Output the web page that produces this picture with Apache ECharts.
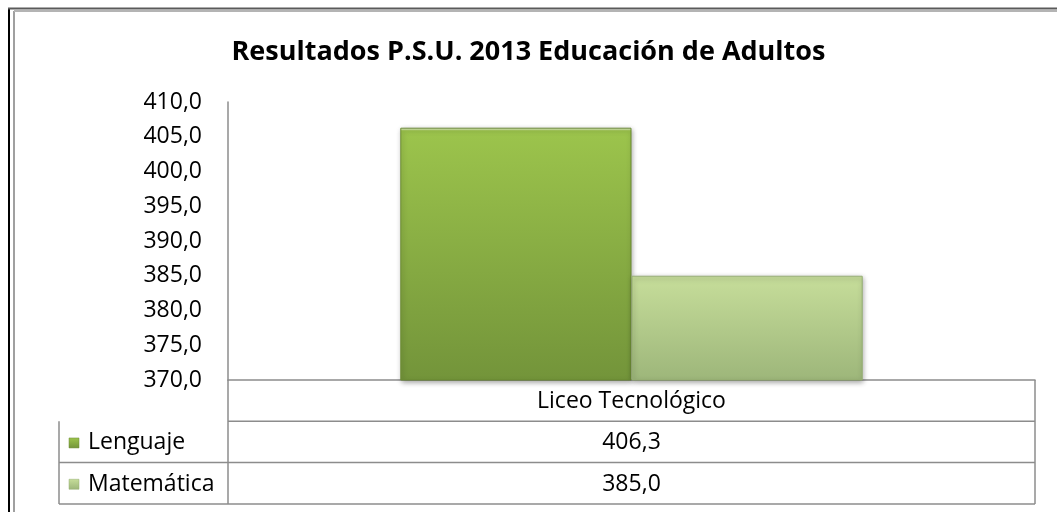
<!DOCTYPE html>
<html>
<head>
<meta charset="utf-8">
<script src="https://cdn.jsdelivr.net/npm/echarts@6/dist/echarts.min.js"></script>
<style>
html,body{margin:0;padding:0;background:#fff;}
#chart{width:1057px;height:512px;}
</style>
</head>
<body>
<div id="chart"></div>
<script>
var titleText = 'Resultados P.S.U. 2013 Educación de Adultos';
var categories = ['Liceo Tecnológico'];
var seriesNames = ['Lenguaje', 'Matemática'];
var lenguaje = [406.3];
var matematica = [385.0];
var yTicks = [370, 375, 380, 385, 390, 395, 400, 405, 410];

var FONT = '"Open Sans", sans-serif';
var gridLeft = 228, gridTop = 102, gridRight = 1035, gridBottom = 380;
var rowH = 41.3, labelLeft = 59;

function fmt(v) { return v.toFixed(1).replace('.', ','); }

function grad(top, bottom) {
  return new echarts.graphic.LinearGradient(0, 0, 0, 1, [
    { offset: 0, color: '#ffffff' },
    { offset: 0.012, color: top },
    { offset: 1, color: bottom }
  ]);
}
var colors = [['#9cc44c', '#73943a'], ['#c6dd9a', '#9db67a']];
var values = [lenguaje, matematica];

var chart = echarts.init(document.getElementById('chart'));

// data table drawn below the plot
var g = [];
var lineStyle = { stroke: '#8c8c8c', lineWidth: 1.5 };
function hline(x1, x2, y) { g.push({ type: 'line', shape: { x1: x1, y1: y, x2: x2, y2: y }, style: lineStyle }); }
function vline(x, y1, y2) { g.push({ type: 'line', shape: { x1: x, y1: y1, x2: x, y2: y2 }, style: lineStyle }); }
var midX = (gridLeft + gridRight) / 2;
hline(gridLeft, gridRight, gridBottom + rowH);
for (var i = 0; i < seriesNames.length; i++) hline(labelLeft, gridRight, gridBottom + rowH * (i + 2));
vline(gridLeft, gridBottom, gridBottom + rowH * 3);
vline(gridRight, gridBottom, gridBottom + rowH * 3);
vline(labelLeft, gridBottom + rowH, gridBottom + rowH * 3);
g.push({ type: 'text', x: midX, y: gridBottom + rowH / 2 + 1,
  style: { text: categories[0], font: '23px ' + FONT, fill: '#000', textAlign: 'center', textVerticalAlign: 'middle' } });
seriesNames.forEach(function (name, i) {
  var cy = gridBottom + rowH * (i + 1) + rowH / 2 + 1;
  g.push({ type: 'rect', shape: { x: labelLeft + 10, y: cy - 5, width: 10, height: 10 },
    style: { fill: grad(colors[i][0], colors[i][1]), stroke: i === 0 ? '#6a8a33' : '#94ad70', lineWidth: 0.5 } });
  g.push({ type: 'text', x: labelLeft + 29, y: cy,
    style: { text: name, font: '23px ' + FONT, fill: '#000', textVerticalAlign: 'middle' } });
  g.push({ type: 'text', x: midX, y: cy,
    style: { text: fmt(values[i][0]), font: '23px ' + FONT, fill: '#000', textAlign: 'center', textVerticalAlign: 'middle' } });
});
// outer frame
g.push({ type: 'line', shape: { x1: 9, y1: 8, x2: 9, y2: 512 }, style: { stroke: '#000', lineWidth: 2 } });
g.push({ type: 'line', shape: { x1: 14, y1: 11, x2: 14, y2: 512 }, style: { stroke: '#a0a0a0', lineWidth: 2 } });
g.push({ type: 'line', shape: { x1: 8, y1: 8.5, x2: 1057, y2: 8.5 }, style: { stroke: '#5a5a5a', lineWidth: 2 } });
g.push({ type: 'line', shape: { x1: 14, y1: 11, x2: 1057, y2: 11 }, style: { stroke: '#b4b4b4', lineWidth: 2 } });

var option = {
  animation: false,
  backgroundColor: '#fff',
  title: {
    text: titleText, left: 'center', top: 34,
    textStyle: { fontFamily: FONT, fontSize: 27, fontWeight: 'bold', color: '#000' }
  },
  grid: { left: gridLeft, top: gridTop, right: 1057 - gridRight, bottom: 512 - gridBottom, containLabel: false },
  xAxis: {
    type: 'category', data: categories,
    axisLine: { lineStyle: { color: '#8c8c8c', width: 1.5 } },
    axisTick: { show: false }, axisLabel: { show: false }
  },
  yAxis: {
    type: 'value', min: yTicks[0], max: yTicks[yTicks.length - 1], interval: 5,
    axisLine: { show: true, lineStyle: { color: '#8c8c8c', width: 1.5 } },
    axisTick: { show: false }, splitLine: { show: false },
    axisLabel: { formatter: fmt, fontFamily: FONT, fontSize: 23, color: '#000', margin: 26 }
  },
  series: seriesNames.map(function (name, i) {
    return {
      name: name, type: 'bar', data: values[i],
      barGap: 0, barCategoryGap: '42.7%',
      itemStyle: {
        color: grad(colors[i][0], colors[i][1]),
        borderColor: i === 0 ? '#6a8a33' : '#94ad70', borderWidth: 1,
        shadowColor: 'rgba(0,0,0,0.35)', shadowBlur: 5, shadowOffsetX: 1, shadowOffsetY: 2
      }
    };
  }),
  graphic: g
};
chart.setOption(option);
</script>
</body>
</html>
